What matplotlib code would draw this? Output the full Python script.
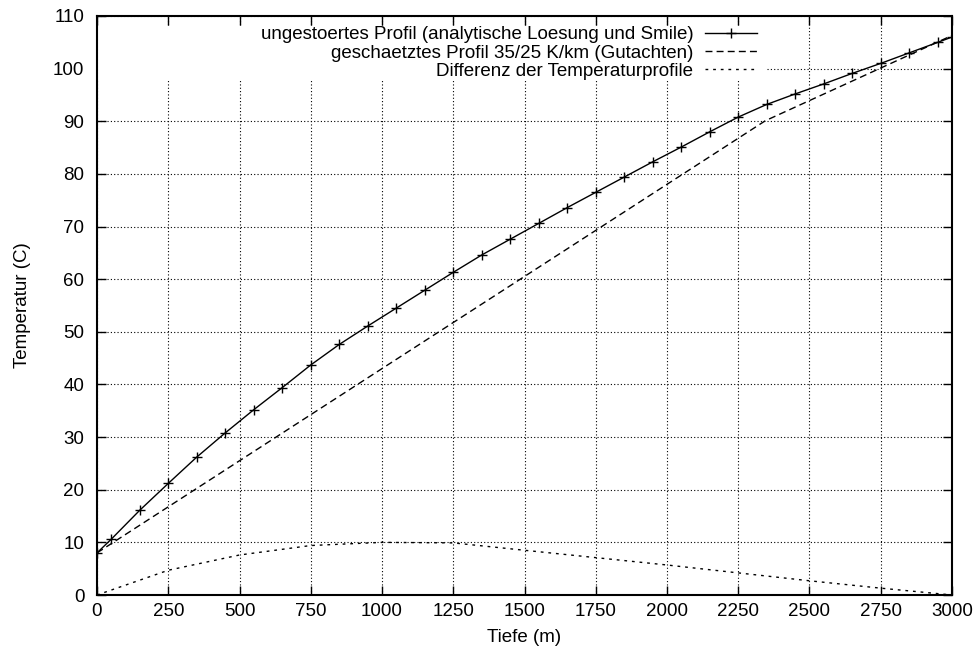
import numpy as np
import matplotlib
matplotlib.use('Agg')
import matplotlib.pyplot as plt
from matplotlib.patches import Rectangle

plt.rcParams['font.family'] = ['Liberation Sans', 'DejaVu Sans']

# ungestoertes Profil (Marker-Punkte)
tiefe_prof = [0, 50, 150, 250, 350, 450, 550, 650, 750, 850, 950, 1050, 1150,
              1250, 1350, 1450, 1550, 1650, 1750, 1850, 1950, 2050, 2150, 2250,
              2350, 2450, 2550, 2650, 2750, 2850, 2950, 3000]
temp_prof = [8.0, 10.6, 16.1, 21.2, 26.2, 30.8, 35.2, 39.4, 43.7, 47.6, 51.1,
             54.5, 57.9, 61.3, 64.6, 67.6, 70.6, 73.6, 76.5, 79.4, 82.3, 85.1,
             88.0, 90.8, 93.2, 95.2, 97.1, 99.1, 101.0, 103.0, 105.0, 106.0]

# geschaetztes Profil 35/25 K/km
tiefe_gut = [0, 2345, 3000]
temp_gut = [8.0, 90.1, 106.3]

# Differenz
tiefe_diff = [0, 250, 500, 750, 1000, 1250, 1500, 1750, 2000, 2250, 2500, 2750, 3000]
temp_diff = [0, 4.7, 7.6, 9.4, 10.0, 9.9, 8.5, 7.1, 5.7, 4.2, 2.7, 1.3, 0]

labels = ['ungestoertes Profil (analytische Loesung und Smile)',
          'geschaetztes Profil 35/25 K/km (Gutachten)',
          'Differenz der Temperaturprofile']

fs = 13.5
fig = plt.figure(figsize=(9.73, 6.53), dpi=100)
ax = fig.add_axes([97/973, 58/653, 855/973, 579/653])

ax.plot(tiefe_prof, temp_prof, color='black', lw=1.0, marker='+',
        markersize=7, mew=1.0, label=labels[0], zorder=3)
ax.plot(tiefe_gut, temp_gut, color='black', lw=1.0, dashes=(5, 3), label=labels[1], zorder=3)
ax.plot(tiefe_diff, temp_diff, color='black', lw=1.0, dashes=(2, 3.5), label=labels[2], zorder=3)

ax.set_xlim(0, 3000)
ax.set_ylim(0, 110)
ax.set_xticks(np.arange(0, 3001, 250))
ax.set_yticks(np.arange(0, 111, 10))
ax.tick_params(direction='in', length=6.5, width=1.0, top=True, right=True,
               labelsize=fs)
ax.tick_params(axis='x', pad=6)
ax.tick_params(axis='y', pad=9)
ax.grid(True, color='black', linestyle=(0, (1, 2)), linewidth=0.8)
ax.set_axisbelow(True)
for s in ax.spines.values():
    s.set_linewidth(1.5)

# weisser Bereich hinter der Legende (Gitter ausgeblendet)
ax.add_patch(Rectangle((97/973, (653-80)/653), (767-97)/973, 54/653,
                       transform=fig.transFigure, facecolor='white',
                       edgecolor='none', zorder=1))

ax.set_xlabel('Tiefe (m)', fontsize=fs, labelpad=6)
ax.set_ylabel('Temperatur (C)', fontsize=fs, labelpad=16)

leg = ax.legend(loc='upper right', bbox_to_anchor=((757 - 97) / 855, 1 - 10/579),
                markerfirst=False, frameon=False, fontsize=fs,
                handlelength=2.8, handletextpad=0.6, labelspacing=0.07,
                borderaxespad=0, borderpad=0)
for t in leg.get_texts():
    t.set_ha('right')
leg._legend_box.align = 'right'

fig.savefig('out.png', dpi=100)
